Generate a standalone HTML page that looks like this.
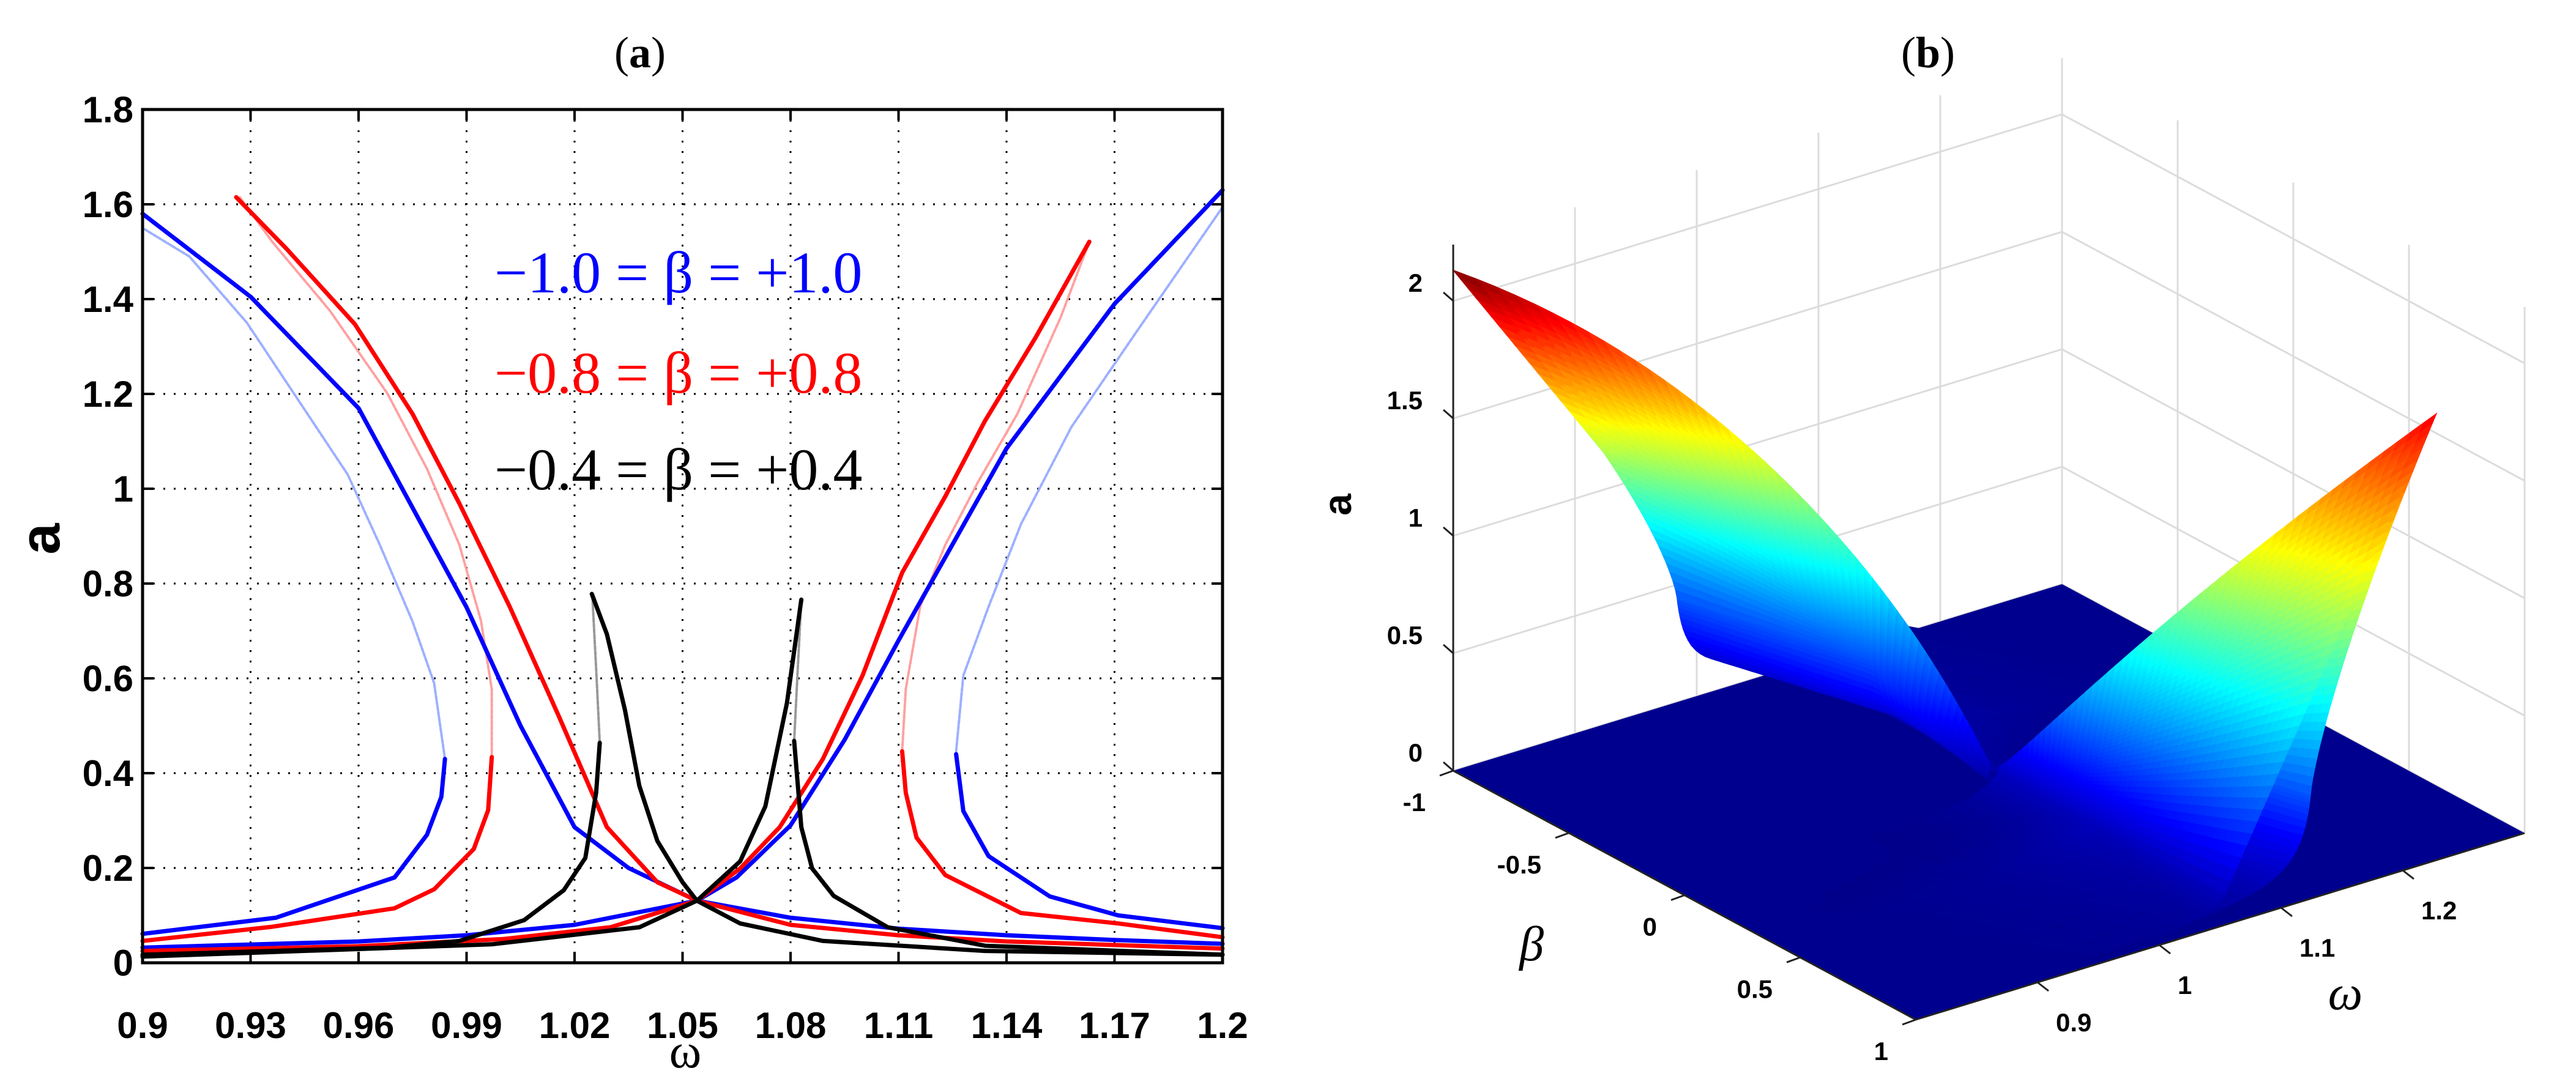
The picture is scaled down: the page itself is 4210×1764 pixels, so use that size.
<!DOCTYPE html>
<html><head><meta charset="utf-8"><style>
html,body{margin:0;padding:0;background:#fff;}
svg{display:block;}
</style></head><body>
<svg id="root" width="4210" height="1764" viewBox="0 0 4210 1764" xmlns="http://www.w3.org/2000/svg">
<rect x="0" y="0" width="4210" height="1764" fill="#fff"/>
<text x="1046" y="110" font-family="Liberation Serif, serif" font-size="72" text-anchor="middle">(<tspan font-weight="bold">a</tspan>)</text>
<text x="3151" y="110" font-family="Liberation Serif, serif" font-size="72" text-anchor="middle">(<tspan font-weight="bold">b</tspan>)</text>
<g id="pa"></g>
<g id="pb"></g>
</svg>
<script>
// ---------- Panel (a) data ----------
const xTicks = [0.9,0.93,0.96,0.99,1.02,1.05,1.08,1.11,1.14,1.17,1.2];
const xTickLabels = ["0.9","0.93","0.96","0.99","1.02","1.05","1.08","1.11","1.14","1.17","1.2"];
const yTicks = [0,0.2,0.4,0.6,0.8,1,1.2,1.4,1.6,1.8];
const yTickLabels = ["0","0.2","0.4","0.6","0.8","1","1.2","1.4","1.6","1.8"];

const blueUpperLeft = [[0.9,1.58],[0.93,1.405],[0.96,1.17],[0.99,0.75],[1.005,0.5],[1.02,0.286],[1.035,0.2],[1.054,0.131]];
const blueLowRight = [[1.054,0.131],[1.08,0.095],[1.11,0.072],[1.14,0.058],[1.17,0.048],[1.2,0.04]];
const blueLowLeft = [[0.9,0.032],[0.96,0.045],[0.99,0.058],[1.02,0.08],[1.054,0.131]];
const blueUpperRight = [[1.054,0.131],[1.065,0.18],[1.08,0.29],[1.095,0.47],[1.11,0.68],[1.14,1.085],[1.17,1.39],[1.2,1.63]];
const blueHookLeft = [[0.9,0.061],[0.937,0.095],[0.97,0.18],[0.979,0.27],[0.983,0.35],[0.984,0.43]];
const blueHookLeftUnstable = [[0.984,0.43],[0.981,0.59],[0.975,0.72],[0.966,0.88],[0.957,1.03],[0.943,1.19],[0.929,1.35],[0.913,1.49],[0.9,1.55]];
const blueHookRight = [[1.2,0.073],[1.171,0.1],[1.152,0.14],[1.135,0.225],[1.128,0.32],[1.126,0.44]];
const blueHookRightUnstable = [[1.126,0.446],[1.128,0.606],[1.135,0.751],[1.144,0.925],[1.158,1.13],[1.176,1.33],[1.2,1.594]];

const redUpperLeft = [[0.926,1.615],[0.94,1.506],[0.959,1.347],[0.975,1.158],[0.988,0.969],[1.002,0.751],[1.0157,0.519],[1.029,0.286],[1.043,0.17],[1.054,0.131]];
const redLowRight = [[1.054,0.131],[1.08,0.08],[1.11,0.058],[1.14,0.045],[1.2,0.03]];
const redLowLeft = [[0.9,0.025],[0.96,0.035],[1.0,0.05],[1.03,0.075],[1.054,0.131]];
const redUpperRight = [[1.054,0.131],[1.066,0.199],[1.077,0.286],[1.089,0.43],[1.1,0.606],[1.111,0.823],[1.123,0.984],[1.134,1.143],[1.148,1.318],[1.163,1.521]];
const redHookLeft = [[0.9,0.046],[0.936,0.076],[0.97,0.115],[0.981,0.155],[0.992,0.24],[0.996,0.322],[0.997,0.434]];
const redHookLeftUnstable = [[0.997,0.434],[0.997,0.577],[0.994,0.722],[0.988,0.882],[0.979,1.042],[0.968,1.201],[0.952,1.376],[0.936,1.521],[0.927,1.615]];
const redHookRight = [[1.2,0.054],[1.171,0.083],[1.144,0.105],[1.123,0.185],[1.115,0.264],[1.112,0.359],[1.111,0.446]];
const redHookRightUnstable = [[1.111,0.446],[1.112,0.577],[1.116,0.751],[1.123,0.882],[1.132,1.013],[1.143,1.158],[1.155,1.361],[1.163,1.521]];

const blackLeftLower = [[0.9,0.017],[0.968,0.032],[0.988,0.046],[1.006,0.09],[1.017,0.153],[1.023,0.221],[1.026,0.359],[1.027,0.464]];
const blackLeftUnstable = [[1.027,0.464],[1.026,0.62],[1.025,0.766]];
const blackLeftMain = [[1.0248,0.778],[1.029,0.693],[1.034,0.533],[1.038,0.373],[1.043,0.257],[1.05,0.17],[1.054,0.131],[1.066,0.083],[1.089,0.046],[1.134,0.025],[1.2,0.017]];
const blackRightMain = [[0.9,0.013],[0.997,0.039],[1.038,0.075],[1.054,0.131],[1.066,0.214],[1.073,0.33],[1.079,0.548],[1.083,0.766]];
const blackRightUnstable = [[1.083,0.766],[1.082,0.62],[1.081,0.468]];
const blackRightLower = [[1.081,0.468],[1.083,0.286],[1.086,0.199],[1.092,0.141],[1.107,0.075],[1.134,0.036],[1.2,0.017]];

const legendLabels = ["\u22121.0 = \u03b2 = +1.0","\u22120.8 = \u03b2 = +0.8","\u22120.4 = \u03b2 = +0.4"];

// ---------- Panel (b) data ----------
const zTicks = [0,0.5,1,1.5,2];
const zTickLabels = ["0","0.5","1","1.5","2"];
const betaTicks = [-1,-0.5,0,0.5,1];
const betaTickLabels = ["-1","-0.5","0","0.5","1"];
const omegaTicks = [0.9,1,1.1,1.2];
const omegaTickLabels = ["0.9","1","1.1","1.2"];
const crossPoint = [1.054,0.131];
const tipLeft = [2.13];
const tipRight = [1.9];

const NS = "http://www.w3.org/2000/svg";
function mk(tag, attrs, parent){ const e=document.createElementNS(NS,tag); for(const k in attrs) e.setAttribute(k,attrs[k]); parent.appendChild(e); return e; }

// ---------- draw panel (a) ----------
(function(){
  const g = document.getElementById('pa');
  const X0=233,X1=1998,Y0=1574,Y1=179;
  const xs = w => X0 + (w-0.9)/(0.3)*(X1-X0);
  const ys = a => Y0 - a/1.8*(Y0-Y1);
  // grid
  xTicks.forEach((t,i)=>{
    if(i>0 && i<xTicks.length-1){
      const l=mk('line',{x1:xs(t),x2:xs(t),y1:Y1,y2:Y0,stroke:'#000','stroke-width':3,'stroke-dasharray':'3 14'},g);
       
    }
    const tk=mk('line',{x1:xs(t),x2:xs(t),y1:Y0,y2:Y0-18,stroke:'#000','stroke-width':4},g);
     
    const tk2=mk('line',{x1:xs(t),x2:xs(t),y1:Y1,y2:Y1+18,stroke:'#000','stroke-width':4},g);
     
    const tx=mk('text',{x:xs(t),y:1697,'font-family':'Liberation Sans, sans-serif','font-size':60,'font-weight':'bold','text-anchor':'middle'},g);
    tx.textContent=xTickLabels[i];
     
  });
  yTicks.forEach((t,i)=>{
    if(i>0 && i<yTicks.length-1){
      const l=mk('line',{x1:X0,x2:X1,y1:ys(t),y2:ys(t),stroke:'#000','stroke-width':3,'stroke-dasharray':'3 14'},g);
       
    }
    const tk=mk('line',{x1:X0,x2:X0+18,y1:ys(t),y2:ys(t),stroke:'#000','stroke-width':4},g);
     
    const tk2=mk('line',{x1:X1,x2:X1-18,y1:ys(t),y2:ys(t),stroke:'#000','stroke-width':4},g);
     
    const tx=mk('text',{x:218,y:ys(t)+21,'font-family':'Liberation Sans, sans-serif','font-size':60,'font-weight':'bold','text-anchor':'end'},g);
    tx.textContent=yTickLabels[i];
     
  });
  const series = [
    [blueLowLeft,'#0000ff',7,null,'blue-low-left'],
    [blueLowRight,'#0000ff',7,null,'blue-low-right'],
    [redLowLeft,'#ff0000',7,null,'red-low-left'],
    [redLowRight,'#ff0000',7,null,'red-low-right'],
    [blueHookLeftUnstable,'#9db0ff',4,'6 3','blue-unstable-left'],
    [blueHookRightUnstable,'#9db0ff',4,'6 3','blue-unstable-right'],
    [redHookLeftUnstable,'#ffa0a0',4,'6 3','red-unstable-left'],
    [redHookRightUnstable,'#ffa0a0',4,'6 3','red-unstable-right'],
    [blackLeftUnstable,'#999',4,'6 3','black-unstable-left'],
    [blackRightUnstable,'#999',4,'6 3','black-unstable-right'],
    [blueUpperLeft,'#0000ff',7,null,'blue-upper-left'],
    [blueUpperRight,'#0000ff',7,null,'blue-upper-right'],
    [blueHookLeft,'#0000ff',7,null,'blue-hook-left'],
    [blueHookRight,'#0000ff',7,null,'blue-hook-right'],
    [redUpperLeft,'#ff0000',7,null,'red-upper-left'],
    [redUpperRight,'#ff0000',7,null,'red-upper-right'],
    [redHookLeft,'#ff0000',7,null,'red-hook-left'],
    [redHookRight,'#ff0000',7,null,'red-hook-right'],
    [blackLeftLower,'#000',7,null,'black-left-lower'],
    [blackLeftMain,'#000',7,null,'black-left-main'],
    [blackRightMain,'#000',7,null,'black-right-main'],
    [blackRightLower,'#000',7,null,'black-right-lower']
  ];
  series.forEach(s=>{
    const d = s[0].map((p,i)=>(i?'L':'M')+xs(p[0]).toFixed(1)+' '+ys(p[1]).toFixed(1)).join(' ');
    const attrs={d:d,fill:'none',stroke:s[1],'stroke-width':s[2],'stroke-linejoin':'round','stroke-linecap':'round'};
    if(s[3]) attrs['stroke-dasharray']=s[3];
    const p=mk('path',attrs,g);
    
    
  });
  const bx=mk('rect',{x:X0,y:Y1,width:X1-X0,height:Y0-Y1,fill:'none',stroke:'#000','stroke-width':5},g);
   
  const cols=['#0000ff','#ff0000','#000'], ly=[478,642,800];
  legendLabels.forEach((t,i)=>{
    const tx=mk('text',{x:808,y:ly[i],'font-family':'Liberation Serif, serif','font-size':96,fill:cols[i]},g);
    tx.textContent=t;
     
  });
  const xt=mk('text',{x:1120,y:1745,'font-family':'Liberation Serif, serif','font-size':80,'text-anchor':'middle'},g);
  xt.textContent='\u03c9';
   
  const yt=mk('text',{x:0,y:0,'font-family':'Liberation Sans, sans-serif','font-size':92,'font-weight':'bold','text-anchor':'middle',transform:'translate(97,881) rotate(-90)'},g);
  yt.textContent='a';
   
})();

// ---------- draw panel (b) ----------
(function(){
  const g=document.getElementById('pb');
  const WMIN=0.8,WMAX=1.3;
  function P(w,b,z){
    const u=(w-WMIN)/(WMAX-WMIN), v=(b+1)/2;
    return [2375+u*995+v*756, 1260-u*305+v*407-z*384];
  }
  const gc='#dcdcdc';
  const ZTOP=2.24;
  // back walls grid
  [0.9,1.0,1.1,1.2,1.3].forEach(w=>{
    const a=P(w,-1,0),b=P(w,-1,ZTOP);
    const l=mk('line',{x1:a[0],y1:a[1],x2:b[0],y2:b[1],stroke:gc,'stroke-width':3},g);
     
  });
  [-0.5,0,0.5,1].forEach(bb=>{
    const a=P(WMAX,bb,0),b=P(WMAX,bb,ZTOP);
    const l=mk('line',{x1:a[0],y1:a[1],x2:b[0],y2:b[1],stroke:gc,'stroke-width':3},g);
     
  });
  zTicks.forEach(z=>{
    const a=P(WMIN,-1,z),b=P(WMAX,-1,z),c=P(WMAX,1,z);
    const l=mk('polyline',{points:a.join(',')+' '+b.join(',')+' '+c.join(','),fill:'none',stroke:gc,'stroke-width':3},g);
     
  });
  // floor
  const L=P(WMIN,-1,0),B=P(WMAX,-1,0),R=P(WMAX,1,0),F=P(WMIN,1,0);
  const fl=mk('polygon',{points:[L,B,R,F].map(p=>p.join(',')).join(' '),fill:'#00008f'},g);
   
  // surface
  function jet(v){ v=Math.max(0,Math.min(1,v)); const c=x=>Math.round(255*Math.max(0,Math.min(1,1.5-Math.abs(x))));
    return 'rgb('+c(4*v-3)+','+c(4*v-2)+','+c(4*v-1)+')'; }
  function slice(beta){
    const s=beta<0?-1:1, m=Math.abs(beta);
    const aTip = s<0 ? crossPoint[1]+(tipLeft[0]-crossPoint[1])*Math.pow(m,1.15) : crossPoint[1]+(tipRight[0]-crossPoint[1])*Math.pow(m,1.15);
    const k = s<0 ? 0.11*m+0.017*Math.pow(m,6) : 0.098*m;
    const wTip = crossPoint[0]+s*k*(aTip-crossPoint[1]);
    const aJ = Math.min(0.44, 0.55*aTip);
    const wMainJ = crossPoint[0]+s*k*(aJ-crossPoint[1]);
    const wJ = Math.min(crossPoint[0]+s*0.07*m, wMainJ) ;
    const wJJ = s<0 ? Math.min(crossPoint[0]+s*0.07*m, wMainJ) : Math.max(crossPoint[0]+s*0.07*m, wMainJ);
    const pts=[];
    const wb = s<0?WMIN:WMAX, wo = s<0?WMAX:WMIN;
    const D=Math.abs(wb-wJJ);
    for(let i=0;i<30;i++){ const t=i/30; const d=D*Math.pow(1-t,3); pts.push([wJJ - s*d, aJ/(1+Math.pow(d/0.012,0.9))]); }
    for(let i=0;i<40;i++){ const t=i/40; pts.push([wJJ+(wTip-wJJ)*Math.pow(t,1.3), aJ+(aTip-aJ)*t]); }
    for(let i=0;i<40;i++){ const t=i/40; const a=aTip+(crossPoint[1]-aTip)*t; pts.push([crossPoint[0]+s*k*(a-crossPoint[1]), a]); }
    const D2=Math.abs(wo-crossPoint[0]);
    for(let i=0;i<=20;i++){ const t=i/20; const d=D2*Math.pow(t,2); pts.push([crossPoint[0]-s*d, crossPoint[1]/(1+d/0.02)]); }
    return pts.map(p=>[Math.max(WMIN,Math.min(WMAX,p[0])),beta,Math.max(0,p[1])]);
  }
  const betas=[]; for(let i=0;i<=100;i++){ const b=-1+i*0.02; if(Math.abs(b)>0.005) betas.push(b); }
  const quads=[];
  function addSide(list){
    for(let j=0;j<list.length-1;j++){
      const A=slice(list[j]),Bs=slice(list[j+1]);
      for(let i=0;i<A.length-1;i++){
        const q=[A[i],A[i+1],Bs[i+1],Bs[i]];
        const zm=(q[0][2]+q[1][2]+q[2][2]+q[3][2])/4;
        if(zm<0.02) continue;
        const wm=(q[0][0]+q[1][0]+q[2][0]+q[3][0])/4, bm=(q[0][1]+q[1][1]+q[2][1]+q[3][1])/4;
        const depth=P(wm,bm,0)[1];
        quads.push([depth,q,zm]);
      }
    }
  }
  addSide(betas.filter(b=>b<0));
  addSide(betas.filter(b=>b>0));
  quads.sort((a,b)=>a[0]-b[0]);
  let html='';
  quads.forEach(q=>{
    const pts=q[1].map(p=>{const r=P(p[0],p[1],p[2]); return r[0].toFixed(1)+','+r[1].toFixed(1);}).join(' ');
    const col=jet(q[2]/2.13);
    html+='<polygon points="'+pts+'" fill="'+col+'" stroke="'+col+'" stroke-width="1.5"/>';
  });
  const sg=mk('g',{},g);
   
  sg.innerHTML=html;
  // axes lines
  const zt=P(WMIN,-1,ZTOP);
  const za=mk('line',{x1:L[0],y1:L[1],x2:zt[0],y2:zt[1],stroke:'#222','stroke-width':3},g);
   
  const ba=mk('line',{x1:L[0],y1:L[1],x2:F[0],y2:F[1],stroke:'#222','stroke-width':3},g);
   
  const wa=mk('line',{x1:F[0],y1:F[1],x2:R[0],y2:R[1],stroke:'#222','stroke-width':3},g);
   
  const lab={'font-family':'Liberation Sans, sans-serif','font-size':42,'font-weight':'bold'};
  zTicks.forEach((z,i)=>{
    const p=P(WMIN,-1,z);
    const t=mk('line',{x1:p[0],y1:p[1],x2:p[0]-16,y2:p[1]-14,stroke:'#222','stroke-width':3},g);
     
    const tx=mk('text',Object.assign({x:p[0]-50,y:p[1]-15,'text-anchor':'end'},lab),g);
    tx.textContent=zTickLabels[i];
     
  });
  betaTicks.forEach((b,i)=>{
    const p=P(WMIN,b,0);
    const t=mk('line',{x1:p[0],y1:p[1],x2:p[0]-22,y2:p[1]+8,stroke:'#222','stroke-width':3},g);
     
    const tx=mk('text',Object.assign({x:p[0]-45,y:p[1]+66,'text-anchor':'end'},lab),g);
    tx.textContent=betaTickLabels[i];
     
  });
  omegaTicks.forEach((w,i)=>{
    const p=P(w,1,0);
    const t=mk('line',{x1:p[0],y1:p[1],x2:p[0]+18,y2:p[1]+14,stroke:'#222','stroke-width':3},g);
     
    const tx=mk('text',Object.assign({x:p[0]+30,y:p[1]+80,'text-anchor':'start'},lab),g);
    tx.textContent=omegaTickLabels[i];
     
  });
  const bt=mk('text',{x:2503,y:1570,'font-family':'Liberation Serif, serif','font-size':80,'font-style':'italic','text-anchor':'middle'},g);
  bt.textContent='\u03b2';
   
  const wt=mk('text',{x:3833,y:1650,'font-family':'Liberation Serif, serif','font-size':80,'font-style':'italic','text-anchor':'middle'},g);
  wt.textContent='\u03c9';
   
  const at=mk('text',{x:0,y:0,'font-family':'Liberation Sans, sans-serif','font-size':64,'font-weight':'bold','text-anchor':'middle',transform:'translate(2208,825) rotate(-90)'},g);
  at.textContent='a';
   
})();
</script>
</body></html>
